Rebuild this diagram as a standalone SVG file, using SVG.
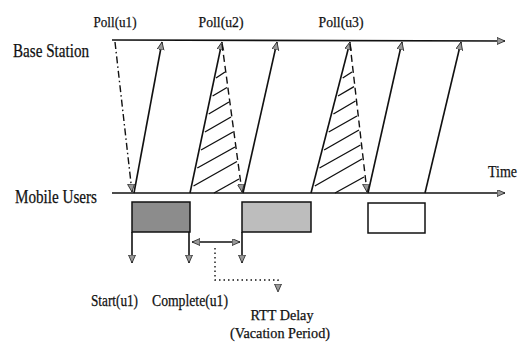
<svg xmlns="http://www.w3.org/2000/svg" width="523" height="348" viewBox="0 0 523 348">
<defs>
<marker id="ah" markerUnits="userSpaceOnUse" markerWidth="10" markerHeight="8" refX="8" refY="3.5" orient="auto-start-reverse">
<path d="M0,0 L8,3.5 L0,7 z" fill="#999" stroke="#222" stroke-width="0.8"/>
</marker>
</defs>
<style>
.t{font-family:"Liberation Serif","Times New Roman",serif;fill:#111;stroke:#111;stroke-width:0.25}
.ln{stroke:#111;stroke-width:1.6;fill:none}
.dd{stroke:#111;stroke-width:1.4;fill:none;stroke-dasharray:7,4}
.dash{stroke:#111;stroke-width:1.4;fill:none;stroke-dasharray:7,3,1.5,3}
.dot{stroke:#111;stroke-width:1.4;fill:none;stroke-dasharray:1.5,3}
.h{stroke:#111;stroke-width:1.4;fill:none}
.box{stroke:#111;stroke-width:1.5}
</style>
<rect width="523" height="348" fill="#fff"/>
<g id="labels">
<text class="t" x="115" y="27" font-size="15.5" text-anchor="middle" textLength="43" lengthAdjust="spacingAndGlyphs">Poll(u1)</text>
<text class="t" x="221" y="27" font-size="15.5" text-anchor="middle" textLength="45" lengthAdjust="spacingAndGlyphs">Poll(u2)</text>
<text class="t" x="341" y="27" font-size="15.5" text-anchor="middle" textLength="45" lengthAdjust="spacingAndGlyphs">Poll(u3)</text>
<text class="t" x="13" y="57" font-size="18.5" textLength="76" lengthAdjust="spacingAndGlyphs">Base Station</text>
<text class="t" x="15" y="203" font-size="18.5" textLength="82" lengthAdjust="spacingAndGlyphs">Mobile Users</text>
<text class="t" x="488" y="177" font-size="17.5" textLength="29" lengthAdjust="spacingAndGlyphs">Time</text>
</g>
<g id="timelines">
<line id="base-station" class="ln" x1="112" y1="40" x2="505" y2="41" marker-end="url(#ah)"/>
<line id="mobile-users" class="ln" x1="112" y1="193" x2="505" y2="193" marker-end="url(#ah)"/>
</g>
<g id="connectors">
<line class="dash" x1="115" y1="42" x2="132" y2="192" marker-end="url(#ah)"/>
<line class="ln" x1="134" y1="193" x2="162" y2="42" marker-end="url(#ah)"/>
<line class="ln" x1="190" y1="193" x2="222" y2="42" marker-end="url(#ah)"/>
<line class="dd" x1="222" y1="44" x2="242" y2="192" marker-end="url(#ah)"/>
<line class="ln" x1="243" y1="193" x2="277" y2="42" marker-end="url(#ah)"/>
<line class="ln" x1="311" y1="193" x2="350" y2="42" marker-end="url(#ah)"/>
<line class="dd" x1="350" y1="44" x2="367" y2="192" marker-end="url(#ah)"/>
<line class="ln" x1="368" y1="193" x2="402" y2="42" marker-end="url(#ah)"/>
<line class="ln" x1="425" y1="193" x2="461" y2="42" marker-end="url(#ah)"/>
</g>
<g id="hatch-u2">
<path class="h" d="M216,78 L225,72 M212.6,96 L227,87.5 M208.7,114 L229,102 M204.9,132 L231,117 M201,150 L233,132 M197.3,168 L235,147 M193.5,186 L237,161.5 M214,193 L239,179"/>
</g>
<g id="hatch-u3">
<path class="h" d="M342.7,78 L352,72 M338,96 L354,86.6 M333.4,114 L355.5,101 M328.7,132 L357,116 M324.1,150 L359,130 M319.5,168 L360.5,145 M314.8,186 L362,159 M335,193 L364,177"/>
</g>
<g id="box-u1">
<rect class="box" x="132" y="202" width="58" height="30" fill="#8c8c8c"/>
</g>
<g id="box-u2">
<rect class="box" x="242" y="202" width="69" height="30" fill="#bdbdbd"/>
</g>
<g id="box-u3">
<rect class="box" x="368" y="203" width="57" height="30" fill="#fff"/>
</g>
<g id="markers-below">
<line class="ln" x1="132" y1="232" x2="132" y2="263" marker-end="url(#ah)"/>
<line class="ln" x1="189" y1="232" x2="189" y2="263" marker-end="url(#ah)"/>
<line class="ln" x1="242" y1="232" x2="242" y2="263" marker-end="url(#ah)"/>
<line class="ln" x1="192" y1="242" x2="240" y2="242" marker-start="url(#ah)" marker-end="url(#ah)"/>
<path class="dot" d="M215,248 L215,280 L278,280 L278,292" marker-end="url(#ah)"/>
</g>
<g id="bottom-labels">
<text class="t" x="91" y="306" font-size="16" textLength="47" lengthAdjust="spacingAndGlyphs">Start(u1)</text>
<text class="t" x="152" y="306" font-size="16" textLength="76" lengthAdjust="spacingAndGlyphs">Complete(u1)</text>
<text class="t" x="282" y="320" font-size="15" text-anchor="middle" textLength="63" lengthAdjust="spacingAndGlyphs">RTT Delay</text>
<text class="t" x="280" y="338" font-size="15" text-anchor="middle" textLength="100" lengthAdjust="spacingAndGlyphs">(Vacation  Period)</text>
</g>
</svg>
